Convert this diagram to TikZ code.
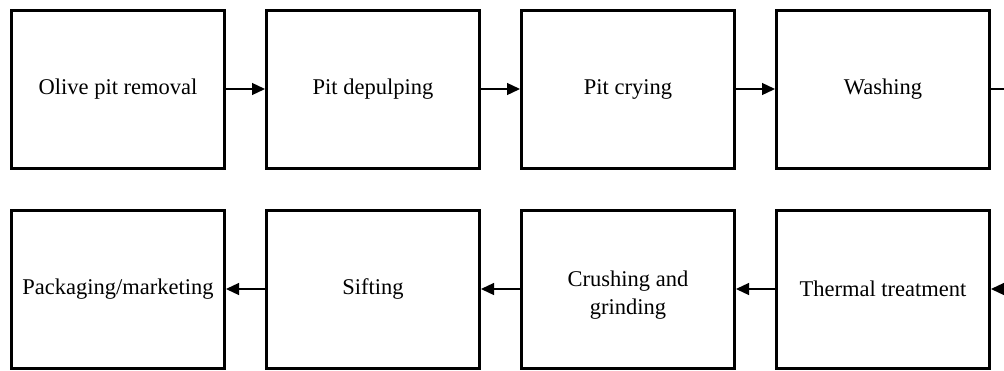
\documentclass[tikz,border=0pt]{standalone}
\usepackage{fontspec}
\setmainfont{Liberation Serif}
\usetikzlibrary{arrows.meta}
\begin{document}
\begin{tikzpicture}[x=1pt,y=-1pt,
  stepbox/.style={draw, line width=3pt, minimum width=213pt, minimum height=158pt, inner sep=0pt, align=center,
    font=\fontsize{22.5}{26}\selectfont},
  steptext/.style={inner sep=0pt, align=center, font=\fontsize{22.5}{27.5}\selectfont},
  flow/.style={line width=1.3pt, -{Triangle[length=13pt,width=12pt]}}]
\useasboundingbox (0,0) rectangle (1004,370);
\node[stepbox] (a) at (118,89) {Olive pit removal};
\node[stepbox] (b) at (373,89) {Pit depulping};
\node[stepbox] (c) at (628,89) {Pit crying};
\node[stepbox] (d) at (883,89) {Washing};
\node[stepbox] (h) at (118,289) {Packaging/marketing};
\node[stepbox] (g) at (373,289) {Sifting};
\node[stepbox] (f) at (628,289) {};
\node[steptext] (ft) at (628,295) {Crushing and\\grinding};
\node[stepbox] (e) at (883,289) {Thermal treatment};
\coordinate (r1) at (1025,89);
\coordinate (r2) at (1025,289);
\draw[flow] (a) -- (b);
\draw[flow] (b) -- (c);
\draw[flow] (c) -- (d);
\draw[flow] (d.east) -- (r1) -- (r2) -- (e.east);
\draw[flow] (e) -- (f);
\draw[flow] (f) -- (g);
\draw[flow] (g) -- (h);
\end{tikzpicture}
\end{document}
